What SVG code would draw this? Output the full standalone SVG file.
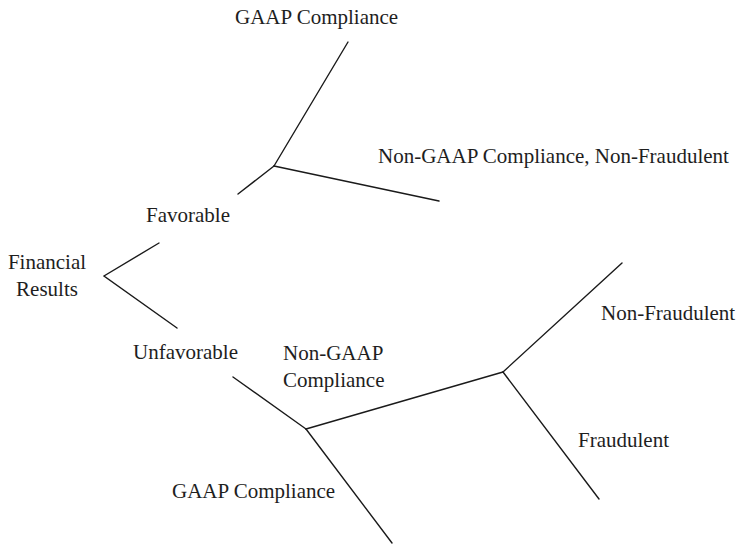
<svg xmlns="http://www.w3.org/2000/svg" width="740" height="544" viewBox="0 0 740 544">
  <style>
    text { font-family: 'Liberation Serif', 'Times New Roman', Times, 'DejaVu Serif', serif; font-size: 21px; fill: #1e1e1e; }
    .mid { text-anchor: middle; }
    .edge { stroke: #1a1a1a; stroke-width: 1.4; fill: none; stroke-linecap: round; }
  </style>
  <rect width="740" height="544" fill="#ffffff"/>

  <!-- branches of the decision tree -->
  <g id="connectors">
    <polyline class="edge" points="159,243 104,276 177,328"/>
    <line class="edge" x1="238" y1="194" x2="274" y2="166"/>
    <line class="edge" x1="274" y1="166" x2="348" y2="42"/>
    <line class="edge" x1="274" y1="166" x2="439" y2="201"/>
    <line class="edge" x1="233" y1="377" x2="306" y2="429"/>
    <line class="edge" x1="306" y1="429" x2="392" y2="543"/>
    <line class="edge" x1="306" y1="429" x2="503" y2="372"/>
    <line class="edge" x1="503" y1="372" x2="622" y2="263"/>
    <line class="edge" x1="503" y1="372" x2="599" y2="499"/>
  </g>

  <g id="financial-results">
    <text class="mid" x="47" y="269">Financial</text>
    <text class="mid" x="47" y="296">Results</text>
  </g>
  <g id="favorable">
    <text x="146" y="222">Favorable</text>
  </g>
  <g id="gaap-compliance-top">
    <text x="235" y="24">GAAP Compliance</text>
  </g>
  <g id="non-gaap-non-fraudulent">
    <text x="378" y="163">Non-GAAP Compliance, Non-Fraudulent</text>
  </g>
  <g id="unfavorable">
    <text x="133" y="359">Unfavorable</text>
  </g>
  <g id="non-gaap-compliance">
    <text x="283" y="360">Non-GAAP</text>
    <text x="283" y="387">Compliance</text>
  </g>
  <g id="gaap-compliance-bottom">
    <text x="172" y="498">GAAP Compliance</text>
  </g>
  <g id="non-fraudulent">
    <text x="601" y="320">Non-Fraudulent</text>
  </g>
  <g id="fraudulent">
    <text x="578" y="447">Fraudulent</text>
  </g>
</svg>
